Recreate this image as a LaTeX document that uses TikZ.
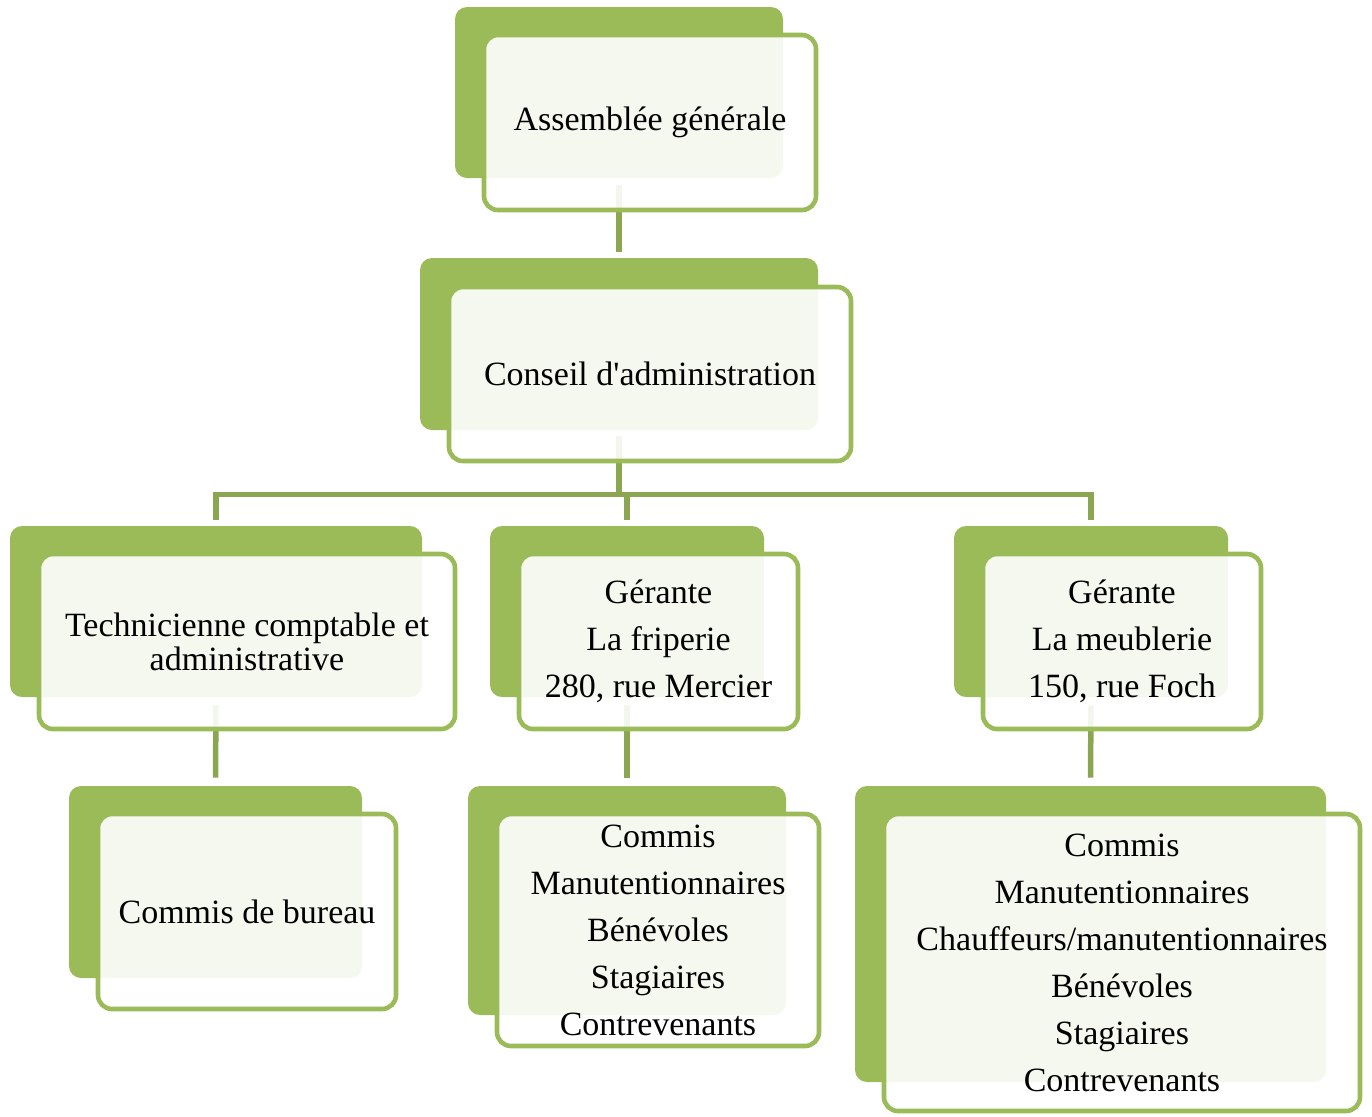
\documentclass[tikz,border=0pt]{standalone}
\usepackage{fontspec}
\setmainfont{Liberation Serif}
\definecolor{leaf}{HTML}{9BBB59}
\definecolor{stem}{HTML}{8AA650}

\begin{document}
\begin{tikzpicture}[x=0.5pt,y=-0.5pt,
        darkbox/.style={rectangle,rounded corners=6pt,fill=leaf,inner sep=0pt},
        lightbox/.style={rectangle,rounded corners=7pt,draw=leaf,line width=2.3pt,fill=white,fill opacity=0.9,text opacity=1,inner sep=2pt,align=center,font=\fontsize{17}{17}\selectfont},
        link/.style={draw=stem,line width=2.75pt}]
        \useasboundingbox (0,0) rectangle (1372,1116);

        % back plates
        \node[darkbox,minimum width=164pt,minimum height=85.5pt] (agd) at (619, 92.5) {};
        \node[darkbox,minimum width=199pt,minimum height=86pt] (cad) at (619, 344) {};
        \node[darkbox,minimum width=206pt,minimum height=85.5pt] (techd) at (216, 611.5) {};
        \node[darkbox,minimum width=137pt,minimum height=85.5pt] (fripd) at (627, 611.5) {};
        \node[darkbox,minimum width=137pt,minimum height=85.5pt] (meubd) at (1091, 611.5) {};
        \node[darkbox,minimum width=146.5pt,minimum height=96pt] (burd) at (215.5, 882) {};
        \node[darkbox,minimum width=159pt,minimum height=114.5pt] (fstd) at (627, 900.5) {};
        \node[darkbox,minimum width=235.5pt,minimum height=148pt] (mstd) at (1090.5, 934) {};

        % links
	\draw[link] ([yshift=-3.5pt]agd.south) -- ([yshift=3pt]cad.north);
	\draw[link] ([yshift=-3pt]cad.south) |- ([yshift=15.5pt]techd.north) -- ([yshift=3pt]techd.north);
	\draw[link] ([yshift=-3pt]cad.south) |- ([yshift=15.5pt]fripd.north) -- ([yshift=3pt]fripd.north);
	\draw[link] ([yshift=-3pt]cad.south) |- ([yshift=15.5pt]meubd.north) -- ([yshift=3pt]meubd.north);
	\draw[link] ([yshift=-4pt]techd.south) -- ([yshift=4pt]burd.north);
	\draw[link] ([yshift=-4pt]fripd.south) -- ([yshift=4pt]fstd.north);
	\draw[link] ([yshift=-4pt]meubd.south) -- ([yshift=4pt]mstd.north);

        % front plates
        \node[lightbox,minimum width=166pt,minimum height=87.5pt] (ag) at (650, 122.5) {Assemblée générale};
        \node[lightbox,minimum width=201pt,minimum height=87pt] (ca) at (650, 374) {Conseil d\textquotesingle administration};
        \node[lightbox,minimum width=208pt,minimum height=87.5pt] (tech) at (247, 641.5) {Technicienne comptable et\\administrative};
        \node[lightbox,minimum width=139.5pt,minimum height=87.5pt] (frip) at (658.5, 641.5) {Gérante\\[6.5pt]La friperie\\[6.5pt]280, rue Mercier};
        \node[lightbox,minimum width=139pt,minimum height=87.5pt] (meub) at (1122, 641.5) {Gérante\\[6.5pt]La meublerie\\[6.5pt]150, rue Foch};
        \node[lightbox,minimum width=149pt,minimum height=97.5pt] (bur) at (247, 911.5) {Commis de bureau};
        \node[lightbox,minimum width=161pt,minimum height=116pt] (fst) at (658, 930) {Commis\\[6.5pt]Manutentionnaires\\[6.5pt]Bénévoles\\[6.5pt]Stagiaires\\[6.5pt]Contrevenants};
        \node[lightbox,minimum width=238pt,minimum height=148.5pt] (mst) at (1122, 962.5) {Commis\\[6.5pt]Manutentionnaires\\[6.5pt]Chauffeurs/manutentionnaires\\[6.5pt]Bénévoles\\[6.5pt]Stagiaires\\[6.5pt]Contrevenants};
\end{tikzpicture}
\end{document}
